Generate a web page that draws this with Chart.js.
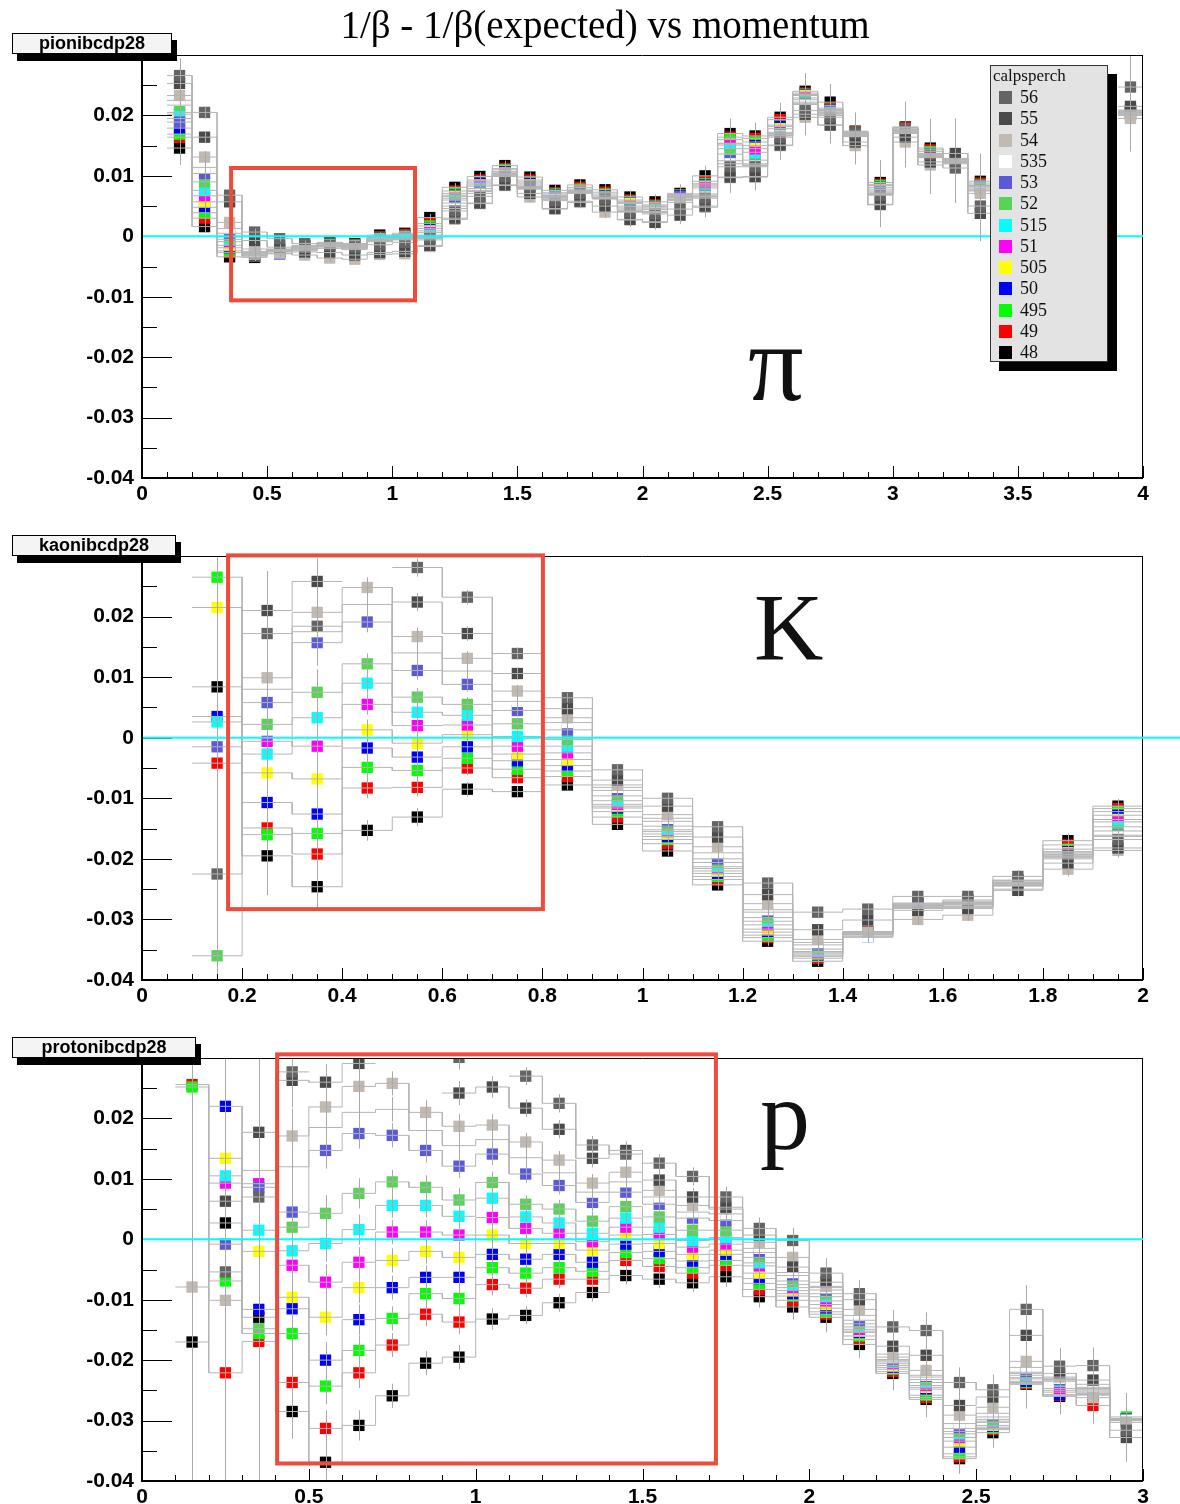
<!DOCTYPE html>
<html>
<head>
<meta charset="utf-8">
<title>1/β - 1/β(expected) vs momentum</title>
<script src="https://cdn.jsdelivr.net/npm/chart.js@4.4.1/dist/chart.umd.min.js"></script>
<style>
  html, body { margin: 0; padding: 0; background: #fff; }
  #page { position: relative; width: 1180px; height: 1504px; overflow: hidden; background: #fff; }
  canvas { position: absolute; left: 0; }
  .title { position: absolute; left: 0; top: 3px; width: 1210px; text-align: center;
           font: 39px 'Liberation Serif', 'DejaVu Serif', serif; line-height: 44px; color: #000; }
  .tag { position: absolute; left: 12px; height: 19px; border: 1px solid #000; background: #f4f4f4;
         box-shadow: 5px 7px 0 #000; font: bold 18px 'Liberation Sans', Arial, sans-serif;
         line-height: 19px; text-align: center; color: #000; }
  .big { position: absolute; font-family: 'Liberation Serif', 'DejaVu Serif', serif; line-height: 1; color: #111; }
  #legend { position: absolute; left: 990px; top: 65px; width: 116px; height: 295px; background: #e3e3e3;
            border: 1px solid #333; box-shadow: 9px 9px 0 #000; font-family: 'Liberation Serif', serif; color: #111; }
  #legend .head { position: absolute; left: 2px; top: 0; font-size: 17px; line-height: 20px; }
  #legend .row { position: absolute; left: 0; width: 110px; height: 20px; font-size: 18px; line-height: 20px; }
  #legend .sw { position: absolute; left: 8px; top: 4px; width: 13px; height: 13px; }
  #legend .lab { position: absolute; left: 29px; top: 0; }
</style>
</head>
<body>
<div id="page">
  <canvas id="pionCanvas" width="1180" height="510" style="top:0"></canvas>
  <canvas id="kaonCanvas" width="1180" height="500" style="top:510px"></canvas>
  <canvas id="protonCanvas" width="1180" height="494" style="top:1010px"></canvas>

  <div class="title">1/β - 1/β(expected) vs momentum</div>
  <div class="tag" style="top:33px; width:158px">pionibcdp28</div>
  <div class="tag" style="top:535px; width:162px">kaonibcdp28</div>
  <div class="tag" style="top:1037px; width:182px">protonibcdp28</div>

  <div class="big" style="left:748px; top:308px; font-size:110px">π</div>
  <div class="big" style="left:754px; top:580px; font-size:96px">K</div>
  <div class="big" style="left:760px; top:1066px; font-size:100px">p</div>

  <div id="legend"><div class="head">calpsperch</div></div>
</div>

<script>
// calpsperch settings, in legend order
const calpsperch = ['56', '55', '54', '535', '53', '52', '515', '51', '505', '50', '495', '49', '48'];
const markerColors = ['#646464', '#4a4a4a', '#c2b9b0', '#ffffff', '#5a5ad8', '#58d358', '#00ffff',
                      '#ff00ff', '#ffff00', '#0000ff', '#00ff00', '#ff0000', '#000000'];

// momentum bin centres (bin width 0.1)
const pionBins = [0.15, 0.25, 0.35, 0.45, 0.55, 0.65, 0.75, 0.85, 0.95, 1.05, 1.15, 1.25, 1.35, 1.45, 1.55,
                  1.65, 1.75, 1.85, 1.95, 2.05, 2.15, 2.25, 2.35, 2.45, 2.55, 2.65, 2.75, 2.85, 2.95, 3.05,
                  3.15, 3.25, 3.35, 3.45, 3.55, 3.65, 3.75, 3.85, 3.95];
const kaonBins = [0.15, 0.25, 0.35, 0.45, 0.55, 0.65, 0.75, 0.85, 0.95, 1.05, 1.15, 1.25, 1.35, 1.45, 1.55,
                  1.65, 1.75, 1.85, 1.95];
const protonBins = [0.15, 0.25, 0.35, 0.45, 0.55, 0.65, 0.75, 0.85, 0.95, 1.05, 1.15, 1.25, 1.35, 1.45, 1.55,
                    1.65, 1.75, 1.85, 1.95, 2.05, 2.15, 2.25, 2.35, 2.45, 2.55, 2.65, 2.75, 2.85, 2.95];

// axis tick labels
const yTicks = [-0.04, -0.03, -0.02, -0.01, 0, 0.01, 0.02, 0.03];
const pionTicks = [0, 0.5, 1, 1.5, 2, 2.5, 3, 3.5, 4];
const kaonTicks = [0, 0.2, 0.4, 0.6, 0.8, 1, 1.2, 1.4, 1.6, 1.8, 2];
const protonTicks = [0, 0.5, 1, 1.5, 2, 2.5, 3];

// pion: 1/beta - 1/beta(expected) per calpsperch
const pi56 = [0.0266, 0.0205, 0.0068, 0.0007, -0.0004, -0.0012, -0.0015, -0.0018, -0.0014, -0.0010, -0.0003, 0.0042, 0.0066, 0.0099, 0.0083, 0.0059, 0.0071, 0.0062, 0.0040, 0.0037, 0.0045, 0.0063, 0.0115, 0.0115, 0.0164, 0.0208, 0.0197, 0.0171, 0.0068, 0.0178, 0.0136, 0.0113, 0.0050, null, null, null, null, null, 0.0247];
const pi55 = [0.0253, 0.0164, 0.0057, -0.0007, -0.0018, -0.0026, -0.0027, -0.0031, -0.0027, -0.0025, -0.0015, 0.0030, 0.0055, 0.0085, 0.0071, 0.0046, 0.0058, 0.0050, 0.0028, 0.0023, 0.0035, 0.0050, 0.0098, 0.0099, 0.0151, 0.0202, 0.0184, 0.0156, 0.0053, 0.0164, 0.0123, 0.0137, 0.0038, null, null, null, null, null, 0.0215];
const pi54 = [0.0233, 0.0131, 0.0023, -0.0021, -0.0028, -0.0031, -0.0036, -0.0038, -0.0030, -0.0029, -0.0017, 0.0028, 0.0054, 0.0084, 0.0065, 0.0045, 0.0056, 0.0040, 0.0027, 0.0024, 0.0056, 0.0048, 0.0097, 0.0098, 0.0150, 0.0197, 0.0184, 0.0150, 0.0052, 0.0156, 0.0118, 0.0127, 0.0071, null, null, null, null, null, 0.0195];
const pi535 = [0.0225, 0.0114, 0.0013, -0.0025, -0.0021, -0.0024, -0.0020, -0.0022, -0.0009, -0.0006, -0.0006, 0.0046, 0.0071, 0.0100, 0.0078, 0.0061, 0.0072, 0.0062, 0.0041, 0.0039, 0.0059, 0.0065, 0.0120, 0.0117, 0.0166, 0.0218, 0.0200, 0.0165, 0.0069, 0.0170, 0.0130, 0.0120, 0.0075, null, null, null, null, null, 0.0200];
const pi53 = [0.0189, 0.0104, 0.0005, -0.0026, -0.0022, -0.0023, -0.0018, -0.0020, -0.0008, -0.0005, -0.0004, 0.0050, 0.0074, 0.0101, 0.0079, 0.0063, 0.0072, 0.0063, 0.0043, 0.0040, 0.0066, 0.0066, 0.0125, 0.0118, 0.0167, 0.0220, 0.0201, 0.0166, 0.0070, 0.0171, 0.0131, 0.0121, 0.0076, null, null, null, null, null, 0.0201];
const pi52 = [0.0217, 0.0090, -0.0001, -0.0027, -0.0023, -0.0022, -0.0017, -0.0019, -0.0007, -0.0004, -0.0002, 0.0055, 0.0076, 0.0102, 0.0080, 0.0064, 0.0073, 0.0063, 0.0045, 0.0041, 0.0061, 0.0068, 0.0136, 0.0120, 0.0168, 0.0222, 0.0203, 0.0167, 0.0071, 0.0172, 0.0132, 0.0122, 0.0078, null, null, null, null, null, 0.0202];
const pi515 = [0.0205, 0.0076, -0.0005, -0.0028, -0.0024, -0.0021, -0.0016, -0.0018, -0.0006, -0.0003, 0.0002, 0.0060, 0.0079, 0.0103, 0.0081, 0.0065, 0.0073, 0.0064, 0.0047, 0.0044, 0.0062, 0.0070, 0.0145, 0.0126, 0.0170, 0.0226, 0.0205, 0.0168, 0.0073, 0.0173, 0.0133, 0.0123, 0.0080, null, null, null, null, null, 0.0203];
const pi51 = [0.0202, 0.0067, -0.0009, -0.0029, -0.0024, -0.0020, -0.0015, -0.0017, -0.0005, -0.0002, 0.0006, 0.0063, 0.0083, 0.0104, 0.0082, 0.0066, 0.0074, 0.0064, 0.0050, 0.0045, 0.0064, 0.0080, 0.0151, 0.0139, 0.0172, 0.0229, 0.0207, 0.0169, 0.0075, 0.0174, 0.0134, 0.0124, 0.0082, null, null, null, null, null, 0.0204];
const pi505 = [0.0195, 0.0057, -0.0015, -0.0030, -0.0025, -0.0019, -0.0014, -0.0016, -0.0004, -0.0001, 0.0009, 0.0066, 0.0085, 0.0105, 0.0085, 0.0067, 0.0075, 0.0065, 0.0054, 0.0047, 0.0065, 0.0083, 0.0153, 0.0145, 0.0178, 0.0233, 0.0208, 0.0170, 0.0078, 0.0175, 0.0135, 0.0125, 0.0083, null, null, null, null, null, 0.0205];
const pi50 = [0.0179, 0.0048, -0.0019, -0.0031, -0.0029, -0.0018, -0.0013, -0.0015, -0.0003, 0.0000, 0.0013, 0.0068, 0.0088, 0.0107, 0.0088, 0.0068, 0.0076, 0.0067, 0.0056, 0.0049, 0.0067, 0.0085, 0.0154, 0.0150, 0.0182, 0.0234, 0.0209, 0.0171, 0.0081, 0.0176, 0.0137, 0.0126, 0.0084, null, null, null, null, null, 0.0206];
const pi495 = [0.0169, 0.0039, -0.0024, -0.0032, -0.0026, -0.0017, -0.0012, -0.0014, -0.0002, 0.0001, 0.0017, 0.0071, 0.0090, 0.0110, 0.0090, 0.0070, 0.0078, 0.0070, 0.0058, 0.0050, 0.0068, 0.0087, 0.0160, 0.0156, 0.0184, 0.0235, 0.0210, 0.0172, 0.0084, 0.0177, 0.0140, 0.0127, 0.0085, null, null, null, null, null, 0.0207];
const pi49 = [0.0164, 0.0030, -0.0027, -0.0033, -0.0025, -0.0016, -0.0011, -0.0013, -0.0001, 0.0003, 0.0021, 0.0075, 0.0093, 0.0112, 0.0093, 0.0072, 0.0081, 0.0073, 0.0060, 0.0052, 0.0069, 0.0091, 0.0164, 0.0162, 0.0193, 0.0237, 0.0212, 0.0173, 0.0086, 0.0180, 0.0143, 0.0128, 0.0088, null, null, null, null, null, 0.0208];
const pi48 = [0.0146, 0.0016, -0.0034, -0.0035, -0.0024, -0.0015, -0.0010, -0.0012, 0.0002, 0.0005, 0.0031, 0.0081, 0.0099, 0.0117, 0.0098, 0.0076, 0.0085, 0.0077, 0.0065, 0.0057, 0.0071, 0.0100, 0.0170, 0.0166, 0.0197, 0.0240, 0.0222, 0.0174, 0.0089, 0.0181, 0.0146, 0.0129, 0.0091, null, null, null, null, null, 0.0209];
const pionErr = [0.0028, 0.0010, 0.0008, 0.0006, 0.0005, 0.0005, 0.0005, 0.0005, 0.0005, 0.0005, 0.0006, 0.0007, 0.0007, 0.0008, 0.0008, 0.0009, 0.0009, 0.0010, 0.0011, 0.0012, 0.0015, 0.0017, 0.0025, 0.0022, 0.0024, 0.0030, 0.0030, 0.0031, 0.0037, 0.0042, 0.0048, 0.0058, 0.0046, null, null, null, null, null, 0.0055];

// kaon
const k56 = [-0.0225, 0.0172, 0.0184, null, 0.0281, 0.0232, 0.0139, 0.0066, -0.0053, -0.0100, -0.0147, -0.0240, -0.0288, -0.0283, -0.0262, -0.0262, -0.0229, -0.0193, -0.0168];
const k55 = [null, 0.0210, 0.0258, null, 0.0224, 0.0172, 0.0106, 0.0048, -0.0070, -0.0113, -0.0164, -0.0259, -0.0317, -0.0301, -0.0285, -0.0282, -0.0252, -0.0207, -0.0182];
const k54 = [null, 0.0099, 0.0207, 0.0248, 0.0167, 0.0131, 0.0077, 0.0033, -0.0078, -0.0127, -0.0180, -0.0274, -0.0333, -0.0321, -0.0300, -0.0293, -0.0250, -0.0217, -0.0186];
const k535 = [null, 0.0080, 0.0175, 0.0220, 0.0140, 0.0110, 0.0060, 0.0025, -0.0082, -0.0133, -0.0190, -0.0284, -0.0338, -0.0329, -0.0282, -0.0280, -0.0245, -0.0200, -0.0163];
const k53 = [-0.0015, 0.0058, 0.0157, 0.0191, 0.0111, 0.0088, 0.0045, 0.0013, -0.0087, -0.0138, -0.0200, -0.0288, -0.0342, -0.0329, -0.0281, -0.0279, -0.0244, -0.0198, -0.0161];
const k52 = [-0.0360, 0.0022, 0.0075, 0.0122, 0.0067, 0.0055, 0.0023, -0.0003, -0.0096, -0.0146, -0.0206, -0.0297, -0.0349, -0.0325, -0.0280, -0.0278, -0.0243, -0.0196, -0.0154];
const k515 = [0.0026, -0.0027, 0.0033, 0.0090, 0.0042, 0.0037, 0.0002, -0.0014, -0.0104, -0.0152, -0.0213, -0.0303, -0.0353, -0.0329, -0.0279, -0.0276, -0.0242, -0.0194, -0.0147];
const k51 = [null, -0.0006, -0.0014, 0.0055, 0.0020, 0.0021, -0.0014, -0.0025, -0.0110, -0.0155, -0.0216, -0.0309, -0.0355, -0.0326, -0.0278, -0.0275, -0.0241, -0.0192, -0.0139];
const k505 = [0.0215, -0.0058, -0.0068, 0.0013, -0.0009, 0.0005, -0.0027, -0.0036, -0.0113, -0.0159, -0.0220, -0.0316, -0.0357, -0.0324, -0.0277, -0.0274, -0.0240, -0.0190, -0.0135];
const k50 = [0.0035, -0.0107, -0.0126, -0.0017, -0.0032, -0.0015, -0.0038, -0.0046, -0.0116, -0.0163, -0.0224, -0.0321, -0.0359, -0.0323, -0.0276, -0.0273, -0.0239, -0.0188, -0.0128];
const k495 = [0.0265, -0.0160, -0.0158, -0.0049, -0.0054, -0.0034, -0.0052, -0.0055, -0.0122, -0.0168, -0.0229, -0.0326, -0.0361, -0.0322, -0.0275, -0.0272, -0.0238, -0.0184, -0.0122];
const k49 = [-0.0042, -0.0149, -0.0192, -0.0083, -0.0082, -0.0050, -0.0066, -0.0064, -0.0131, -0.0175, -0.0234, -0.0330, -0.0364, -0.0321, -0.0274, -0.0270, -0.0236, -0.0177, -0.0117];
const k48 = [0.0084, -0.0195, -0.0246, -0.0153, -0.0131, -0.0085, -0.0089, -0.0078, -0.0143, -0.0187, -0.0243, -0.0336, -0.0369, -0.0320, -0.0273, -0.0268, -0.0235, -0.0170, -0.0113];
const kaonErr = [0.05, 0.0065, 0.0038, 0.0017, 0.0015, 0.0012, 0.0010, 0.0008, 0.0008, 0.0008, 0.0008, 0.0008, 0.0008, 0.0009, 0.0009, 0.0009, 0.0010, 0.0012, 0.0012];

// proton
const p56 = [null, -0.0054, 0.0070, 0.0277, null, null, null, null, 0.0301, null, 0.0270, 0.0225, 0.0156, 0.0141, 0.0126, 0.0104, 0.0070, 0.0018, -0.0002, -0.0056, -0.0090, -0.0145, -0.0151, -0.0237, -0.0249, -0.0116, -0.0210, -0.0209, -0.0316];
const p55 = [null, 0.0063, 0.0177, 0.0263, 0.0260, 0.0291, null, null, 0.0242, 0.0252, 0.0217, 0.0182, 0.0134, 0.0147, 0.0098, 0.0070, 0.0053, 0.0007, -0.0046, -0.0071, -0.0100, -0.0177, -0.0192, -0.0275, -0.0261, -0.0159, -0.0222, -0.0233, -0.0328];
const p54 = [-0.0079, -0.0101, null, 0.0171, 0.0219, 0.0253, 0.0258, 0.0210, 0.0187, 0.0189, 0.0161, 0.0131, 0.0093, 0.0111, 0.0081, 0.0056, 0.0050, -0.0005, -0.0030, -0.0078, -0.0116, -0.0190, -0.0217, -0.0291, -0.0278, -0.0202, -0.0228, -0.0262, -0.0303];
const p535 = [null, null, 0.0114, 0.0120, 0.0185, 0.0210, 0.0215, 0.0180, 0.0155, 0.0165, 0.0135, 0.0110, 0.0078, 0.0095, 0.0070, 0.0045, 0.0042, -0.0015, -0.0055, -0.0080, -0.0126, -0.0195, -0.0225, -0.0305, -0.0288, -0.0212, -0.0230, -0.0245, -0.0300];
const p53 = [null, -0.0008, 0.0086, 0.0045, 0.0147, 0.0175, 0.0172, 0.0147, 0.0121, 0.0141, 0.0108, 0.0089, 0.0061, 0.0078, 0.0058, 0.0035, 0.0031, -0.0022, -0.0060, -0.0084, -0.0134, -0.0201, -0.0228, -0.0313, -0.0294, -0.0220, -0.0232, -0.0247, -0.0300];
const p52 = [null, null, -0.0148, 0.0020, 0.0043, 0.0076, 0.0095, 0.0086, 0.0065, 0.0094, 0.0058, 0.0050, 0.0030, 0.0054, 0.0037, 0.0015, 0.0015, -0.0030, -0.0069, -0.0090, -0.0140, -0.0199, -0.0232, -0.0318, -0.0298, -0.0222, -0.0233, -0.0249, -0.0299];
const p515 = [null, 0.0105, 0.0015, -0.0019, -0.0007, 0.0016, 0.0056, 0.0056, 0.0038, 0.0068, 0.0037, 0.0027, 0.0010, 0.0035, 0.0020, -0.0002, 0.0003, -0.0039, -0.0075, -0.0095, -0.0145, -0.0203, -0.0237, -0.0322, -0.0301, -0.0225, -0.0235, -0.0251, -0.0299];
const p51 = [null, 0.0093, 0.0092, -0.0043, -0.0071, -0.0038, 0.0012, 0.0012, 0.0007, 0.0036, 0.0018, 0.0010, -0.0004, 0.0020, 0.0008, -0.0013, -0.0008, -0.0044, -0.0080, -0.0102, -0.0149, -0.0206, -0.0242, -0.0328, -0.0303, -0.0229, -0.0247, -0.0253, -0.0298];
const p505 = [null, 0.0134, -0.0020, -0.0096, -0.0129, -0.0080, -0.0035, -0.0020, -0.0030, 0.0007, -0.0007, -0.0007, -0.0018, 0.0007, -0.0007, -0.0025, -0.0018, -0.0056, -0.0085, -0.0108, -0.0152, -0.0209, -0.0245, -0.0334, -0.0308, -0.0231, -0.0250, -0.0255, -0.0298];
const p50 = [null, 0.0220, -0.0116, -0.0115, -0.0200, -0.0133, -0.0080, -0.0063, -0.0063, -0.0025, -0.0033, -0.0025, -0.0038, -0.0008, -0.0020, -0.0036, -0.0025, -0.0065, -0.0090, -0.0114, -0.0154, -0.0212, -0.0248, -0.0344, -0.0311, -0.0235, -0.0257, -0.0257, -0.0297];
const p495 = [0.0252, -0.0069, -0.0156, -0.0156, -0.0243, -0.0184, -0.0131, -0.0090, -0.0098, -0.0047, -0.0056, -0.0047, -0.0053, -0.0022, -0.0032, -0.0047, -0.0035, -0.0073, -0.0094, -0.0120, -0.0160, -0.0215, -0.0258, -0.0355, -0.0313, -0.0237, -0.0253, -0.0240, -0.0294];
const p49 = [0.0256, -0.0221, -0.0169, -0.0237, -0.0313, -0.0221, -0.0175, -0.0124, -0.0137, -0.0075, -0.0081, -0.0066, -0.0066, -0.0035, -0.0045, -0.0056, -0.0043, -0.0083, -0.0101, -0.0124, -0.0166, -0.0219, -0.0262, -0.0360, -0.0315, -0.0239, -0.0258, -0.0275, -0.0297];
const p48 = [-0.0170, 0.0027, -0.0129, -0.0285, -0.0369, -0.0308, -0.0259, -0.0205, -0.0195, -0.0132, -0.0126, -0.0105, -0.0088, -0.0060, -0.0066, -0.0072, -0.0062, -0.0095, -0.0112, -0.0129, -0.0174, -0.0222, -0.0265, -0.0363, -0.0320, -0.0240, -0.0260, -0.0258, -0.0300];
const protonErr = [0.06, 0.06, 0.06, 0.0045, 0.003, 0.0025, 0.002, 0.002, 0.002, 0.0018, 0.0015, 0.0015, 0.0015, 0.0015, 0.0015, 0.0015, 0.0017, 0.0018, 0.0021, 0.0025, 0.0022, 0.0028, 0.003, 0.0025, 0.0025, 0.004, 0.003, 0.003, 0.004];

const BIN_WIDTH = 0.1;
const tickFont = { family: "'Liberation Sans', Arial, sans-serif", size: 21, weight: 'bold' };

const panels = [
  { canvas: 'pionCanvas', bins: pionBins, err: pionErr, xMax: 4, xTicks: pionTicks, minorStep: 0.1,
    series: [pi56, pi55, pi54, pi535, pi53, pi52, pi515, pi51, pi505, pi50, pi495, pi49, pi48],
    box: { x0: 0.356, x1: 1.091, y0: 0.0113, y1: -0.0106 }, padTop: 55, axisH: 32, zeroToEdge: false },
  { canvas: 'kaonCanvas', bins: kaonBins, err: kaonErr, xMax: 2, xTicks: kaonTicks, minorStep: 0.05,
    series: [k56, k55, k54, k535, k53, k52, k515, k51, k505, k50, k495, k49, k48],
    box: { x0: 0.172, x1: 0.801, y0: 0.0301, y1: -0.0283 }, padTop: 46, axisH: 30, zeroToEdge: true },
  { canvas: 'protonCanvas', bins: protonBins, err: protonErr, xMax: 3, xTicks: protonTicks, minorStep: 0.1,
    series: [p56, p55, p54, p535, p53, p52, p515, p51, p505, p50, p495, p49, p48],
    box: { x0: 0.405, x1: 1.720, y0: 0.0306, y1: -0.0371 }, padTop: 48, axisH: 23, zeroToEdge: false }
];

// histogram outline: flat across each bin, vertical steps between bins
function outline(bins, vals) {
  const pts = [];
  bins.forEach((c, i) => {
    const v = vals[i];
    if (v === null) { pts.push({ x: c, y: null }); return; }
    pts.push({ x: c - BIN_WIDTH / 2, y: v }, { x: c + BIN_WIDTH / 2, y: v });
  });
  return pts;
}

// error bars, frame with inside ticks, zero line and highlight box
function decor(p) {
  return {
    id: 'decor',
    afterDatasetsDraw(chart) {
      const { ctx, chartArea: a, scales: { x, y } } = chart;

      ctx.save();
      ctx.beginPath();
      ctx.rect(a.left, a.top, a.right - a.left, a.bottom - a.top);
      ctx.clip();
      ctx.strokeStyle = '#a9a9a9';
      ctx.lineWidth = 1;
      p.series.forEach(vals => {
        vals.forEach((v, i) => {
          const e = p.err[i];
          if (v === null || e === null) return;
          const px = Math.round(x.getPixelForValue(p.bins[i])) + 0.5;
          ctx.beginPath();
          ctx.moveTo(px, y.getPixelForValue(v + e));
          ctx.lineTo(px, y.getPixelForValue(v - e));
          ctx.stroke();
        });
      });
      ctx.restore();

      ctx.save();
      // frame
      ctx.strokeStyle = '#000';
      ctx.lineWidth = 1;
      ctx.beginPath();
      ctx.moveTo(a.left, a.top + 0.5); ctx.lineTo(a.right, a.top + 0.5);
      ctx.moveTo(a.right - 0.5, a.top); ctx.lineTo(a.right - 0.5, a.bottom);
      ctx.stroke();
      ctx.lineWidth = 2;
      ctx.beginPath();
      ctx.moveTo(a.left, a.top); ctx.lineTo(a.left, a.bottom);
      ctx.lineTo(a.right, a.bottom);
      ctx.stroke();

      // ticks pointing into the frame
      ctx.lineWidth = 1;
      ctx.beginPath();
      const nY = Math.round((0.03 + 0.04) / 0.005);
      for (let k = 0; k <= nY; k++) {
        const py = Math.round(y.getPixelForValue(-0.04 + k * 0.005)) + 0.5;
        ctx.moveTo(a.left, py);
        ctx.lineTo(a.left + (k % 2 === 0 ? 30 : 15), py);
      }
      const major = p.xTicks[1] - p.xTicks[0];
      const nX = Math.round(p.xMax / p.minorStep);
      const per = Math.round(major / p.minorStep);
      for (let k = 0; k <= nX; k++) {
        const px = Math.round(x.getPixelForValue(k * p.minorStep)) + 0.5;
        ctx.moveTo(px, a.bottom);
        ctx.lineTo(px, a.bottom - (k % per === 0 ? 12 : 6));
      }
      ctx.stroke();

      // zero line
      const y0 = y.getPixelForValue(0);
      ctx.strokeStyle = '#00ffff';
      ctx.lineWidth = 2;
      ctx.beginPath();
      ctx.moveTo(a.left + 1, y0);
      ctx.lineTo(p.zeroToEdge ? chart.width : a.right, y0);
      ctx.stroke();

      // highlighted region
      const b = p.box;
      ctx.strokeStyle = '#ee4b3b';
      ctx.lineWidth = 4;
      const bx = x.getPixelForValue(b.x0), by = y.getPixelForValue(b.y0);
      ctx.strokeRect(bx, by, x.getPixelForValue(b.x1) - bx, y.getPixelForValue(b.y1) - by);
      ctx.restore();
    }
  };
}

function makeChart(p) {
  const datasets = [];
  p.series.forEach((vals, k) => {
    datasets.push({
      type: 'line', label: calpsperch[k] + ' outline', data: outline(p.bins, vals),
      borderColor: '#b5b5b5', borderWidth: 1, pointRadius: 0, tension: 0,
      fill: false, spanGaps: false, clip: 0, order: 0
    });
  });
  p.series.forEach((vals, k) => {
    datasets.push({
      type: 'scatter', label: calpsperch[k],
      data: p.bins.map((c, i) => ({ x: c, y: vals[i] })),
      pointStyle: 'rect', pointRadius: 8, pointBorderWidth: 0,
      backgroundColor: markerColors[k], borderColor: markerColors[k], clip: 0, order: 1
    });
  });

  return new Chart(document.getElementById(p.canvas), {
    type: 'scatter',
    data: { datasets },
    options: {
      responsive: false,
      animation: false,
      events: [],
      layout: { padding: { top: p.padTop, right: 37, left: 0, bottom: 0 } },
      plugins: { legend: { display: false }, tooltip: { enabled: false } },
      scales: {
        x: {
          type: 'linear', min: 0, max: p.xMax,
          grid: { display: false, drawTicks: false }, border: { display: false },
          afterFit: s => { s.height = p.axisH; },
          afterBuildTicks: s => { s.ticks = p.xTicks.map(v => ({ value: v })); },
          ticks: { font: tickFont, color: '#000', padding: 4, maxRotation: 0, autoSkip: false,
                   callback: v => String(v) }
        },
        y: {
          type: 'linear', min: -0.04, max: 0.03,
          grid: { display: false, drawTicks: false }, border: { display: false },
          afterFit: s => { s.width = 142; },
          afterBuildTicks: s => { s.ticks = yTicks.map(v => ({ value: v })); },
          ticks: { font: tickFont, color: '#000', padding: 8, autoSkip: false,
                   callback: v => String(v) }
        }
      }
    },
    plugins: [decor(p)]
  });
}

panels.forEach(makeChart);

// legend box
const legendEl = document.getElementById('legend');
calpsperch.forEach((name, k) => {
  const row = document.createElement('div');
  row.className = 'row';
  row.style.top = (21 + k * 21.25) + 'px';
  row.innerHTML = `<span class="sw" style="background:${markerColors[k]}"></span><span class="lab">${name}</span>`;
  legendEl.appendChild(row);
});
</script>
</body>
</html>
